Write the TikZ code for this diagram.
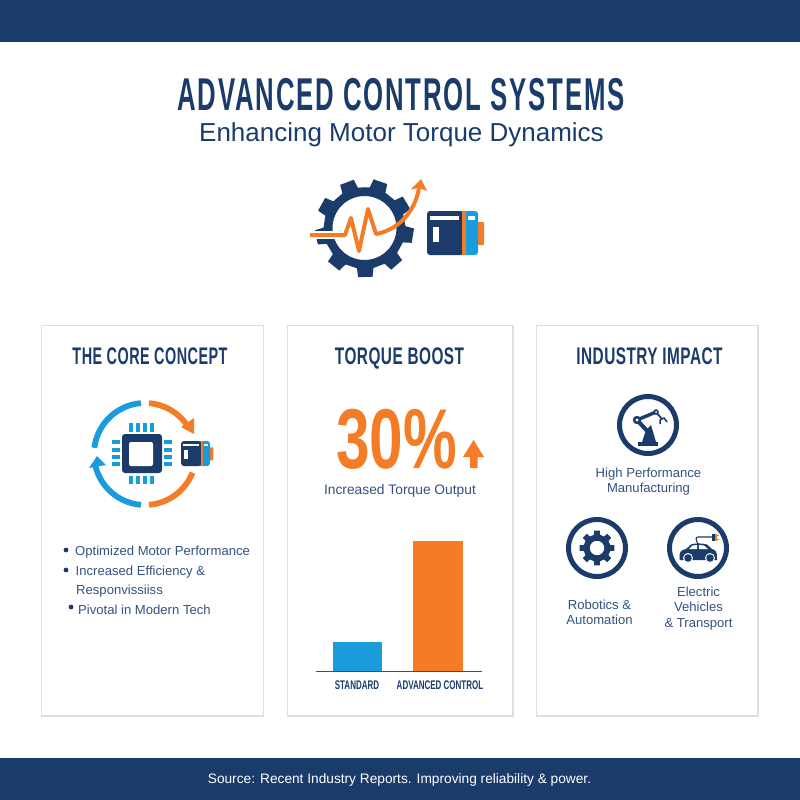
\documentclass[tikz,border=0pt]{standalone}
\usepackage{fontspec}
\setmainfont{Liberation Sans}
\newfontfamily\condT[FakeStretch=0.56,LetterSpace=4]{Liberation Sans}
\newfontfamily\condH[FakeStretch=0.60,LetterSpace=2]{Liberation Sans}
\newfontfamily\condI[FakeStretch=0.64,LetterSpace=2]{Liberation Sans}
\newfontfamily\condP[FakeStretch=0.71]{Liberation Sans}
\newfontfamily\condB[FakeStretch=0.64]{Liberation Sans}
\definecolor{navy}{HTML}{1B3C6B}
\definecolor{skyb}{HTML}{1A9BDC}
\definecolor{orng}{HTML}{F47C26}
\definecolor{txtc}{HTML}{34527F}
\definecolor{edge}{HTML}{DDDFE2}
\tikzset{
 band/.style={fill=navy,draw=none},
 panel/.style={fill=white,draw=edge,line width=1.2pt},
 maintitle/.style={text=navy,inner sep=0pt,anchor=base,font={\condT\bfseries\fontsize{46}{50}\selectfont}},
 subtitle/.style={text=navy,inner sep=0pt,anchor=base,font={\fontsize{26}{30}\selectfont}},
 head/.style={text=navy,inner sep=0pt,anchor=base,font={\condI\bfseries\fontsize{24}{28}\selectfont}},
 body/.style={text=txtc,inner sep=0pt,align=center,font={\fontsize{13.1}{15.5}\selectfont}},
 left text/.style={body,anchor=west,align=left},
 barlabel/.style={text=navy,inner sep=0pt,font={\condB\bfseries\fontsize{12.5}{14}\selectfont}},
 dotb/.style={fill=navy,draw=none},
 ring/.style={draw=navy,line width=5pt,fill=white},
 arcl/.style={line width=5.8pt,line cap=butt},
 pin/.style={fill=skyb,draw=none},
}
% gear: centre x,y; outer, root, hole radii; teeth; start angle
\newcommand\gearshape[7]{%
 \pgfmathsetmacro\gstep{360/#6}%
 \begin{scope}[shift={(#1,#2)}]
 \fill[navy,even odd rule]
  ({#7-0.21*\gstep}:#3)
  \foreach \k in {0,...,\numexpr#6-1\relax}{
    -- ({#7+\k*\gstep-0.21*\gstep}:#3)
    -- ({#7+\k*\gstep+0.21*\gstep}:#3)
    -- ({#7+\k*\gstep+0.29*\gstep}:#4)
    -- ({#7+\k*\gstep+0.71*\gstep}:#4)
  } -- cycle
  (0,0) circle[radius=#5];
 \end{scope}}
% motor icon: left x, top y, scale
\newcommand\motoricon[3]{%
 \begin{scope}[shift={(#1,#2)},scale=#3]
 \fill[orng,rounded corners=1pt] (48,11) rectangle (57,34);
 \fill[skyb,rounded corners=3pt] (30,0) rectangle (51,44);
 \fill[navy,rounded corners=3pt] (0,0) -- (36,0) -- (36,44) -- (0,44) -- cycle;
 \fill[orng] (35,0) rectangle (38.5,44);
 \fill[white] (3,5) rectangle (32,9);
 \fill[white] (6,16) rectangle (12,31);
 \fill[white] (41,5) rectangle (48,9);
 \end{scope}}
\begin{document}
\begin{tikzpicture}[x=1pt,y=-1pt]
\useasboundingbox (0,0) rectangle (800,800);
\fill[white] (0,0) rectangle (800,800);
\fill[band] (0,0) rectangle (800,42);
\fill[band] (0,758) rectangle (800,800);
\node[maintitle] (title) at (401,110) {ADVANCED CONTROL SYSTEMS};
\node[subtitle] (sub) at (401.5,141) {Enhancing Motor Torque Dynamics};
\node[text=white,inner sep=0pt,font={\fontsize{13.7}{16}\selectfont}] (src) at (399.5,779.5) {Source: Recent Industry Reports. Improving reliability \& power.};
% top icon
\gearshape{364.5}{228}{49.5}{41}{32}{9}{-71}
\draw[white,line width=8pt] (309,235) -- (345,235);
\draw[orng,line width=4pt,line join=round] (310,235) -- (345,235) -- (351,218) -- (359,251) -- (368,209) -- (376,234) .. controls (398,230) and (415,212) .. (419,188);
\fill[orng] (421,179) -- (427,191) -- (419,188) -- (410.5,189.5) -- cycle;
\motoricon{427}{211}{1}
% panels
\draw[panel] (41.5,325.5) rectangle (263.5,716);
\draw[panel] (287.5,325.5) rectangle (513,716);
\draw[panel] (536.5,325.5) rectangle (758,716);
\node[head,font={\condH\bfseries\fontsize{24}{28}\selectfont}] (h1) at (150,364) {THE CORE CONCEPT};
\node[head] (h2) at (399.5,364) {TORQUE BOOST};
\node[head] (h3) at (649.5,364) {INDUSTRY IMPACT};
% cycle icon
\coordinate (cy) at (145,454);
\draw[skyb,arcl] (cy) ++(-94.5:51) arc[start angle=-94.5,end angle=-173,radius=51];
\draw[orng,arcl] (cy) ++(-85.5:51) arc[start angle=-85.5,end angle=-32.6,radius=51];
\draw[skyb,arcl] (cy) ++(-265.5:51) arc[start angle=-265.5,end angle=-193,radius=51];
\draw[orng,arcl] (cy) ++(-274.5:51) arc[start angle=-274.5,end angle=-338.5,radius=51];
\fill[orng] (194,418) -- (194,434) -- (181,427) -- cycle;
\fill[skyb] (89,468) -- (97,456) -- (106,465) -- cycle;
\fill[navy,rounded corners=3pt] (122,434) rectangle (162,473);
\fill[white,rounded corners=2pt] (129,442) rectangle (153,466);
\foreach \px in {131,138,145,152}{
 \fill[pin] (\px-1.6,423) rectangle (\px+1.6,431.5);
 \fill[pin] (\px-1.6,476) rectangle (\px+1.6,484);
}
\foreach \py in {442,450,457,464}{
 \fill[pin] (112,\py-1.6) rectangle (120,\py+1.6);
 \fill[pin] (164,\py-1.6) rectangle (172,\py+1.6);
}
\motoricon{181}{441}{0.57}
% bullets
\fill[dotb] (66,550) circle[radius=2.4];
\fill[dotb] (66,570) circle[radius=2.4];
\fill[dotb] (71,607) circle[radius=2.4];
\node[left text] (b1) at (75,552) {Optimized Motor Performance};
\node[left text] (b2) at (75.5,572) {Increased Efficiency \&};
\node[left text] (b3) at (76,591) {Responvissiiss};
\node[left text] (b4) at (78,609.5) {Pivotal in Modern Tech};
% torque
\node[text=orng,inner sep=0pt,anchor=base west,font={\condP\bfseries\fontsize{85}{90}\selectfont}] (pct) at (336,468) {30\%};
\fill[orng] (473.5,440) -- (484,457) -- (477.5,457) -- (477.5,468) -- (470,468) -- (470,457) -- (463,457) -- cycle;
\node[body,font={\fontsize{13.8}{16}\selectfont}] (inc) at (400,491) {Increased Torque Output};
\fill[skyb] (333,642) rectangle (382,671);
\fill[orng] (413,541) rectangle (463,671);
\draw[draw=black!70,line width=0.8pt] (316,671.5) -- (482,671.5);
\node[barlabel] (l1) at (357,685) {STANDARD};
\node[barlabel] (l2) at (440,685) {ADVANCED CONTROL};
% industry
\draw[ring] (648,425) circle[radius=28.5];
\draw[ring] (597,548) circle[radius=28.5];
\draw[ring] (698,548) circle[radius=28.5];
\gearshape{597}{548}{17.5}{13.5}{7.3}{8}{-90}
% robot arm
\fill[navy] (638,442) rectangle (658,446);
\fill[navy] (642,442) -- (646,430) -- (651,425) -- (656,442) -- cycle;
\draw[navy,line width=4pt] (637,420) -- (649,433);
\draw[navy,line width=3.4pt] (637,420) -- (656,412);
\draw[navy,line width=1.8pt] (656,412) -- (662,419);
\fill[navy] (637,420) circle[radius=4.2];
\fill[white] (637,420) circle[radius=1.6];
\fill[navy] (656,412) circle[radius=2.8];
\fill[white] (656,412) circle[radius=1];
\draw[navy,line width=1.5pt] (660,424) -- (660,420) -- (664,418) -- (667,422);
% car
\fill[navy] (679.5,558) .. controls (679,552) and (681,550) .. (686,549) -- (691,544.5) .. controls (695,543) and (702,543) .. (707,544.5) -- (712,549) .. controls (716,550) and (717,552) .. (717,558) -- (717,560) -- (679.5,560) -- cycle;
\fill[white] (689,549) -- (692.5,545.5) -- (697,545) -- (697,549) -- cycle;
\fill[white] (699,545) -- (704,545.5) -- (708,549) -- (699,549) -- cycle;
\fill[white] (688,558) circle[radius=5];
\fill[white] (710,558) circle[radius=5];
\fill[navy] (688,558) circle[radius=3.8];
\fill[navy] (710,558) circle[radius=3.8];
\draw[navy,line width=1.1pt] (698,544) .. controls (696,540) and (695,537) .. (698,537) -- (712,537);
\fill[navy] (712,534) rectangle (715,541);
\fill[orng] (715,534) rectangle (717,541);
\draw[orng,line width=0.8pt] (717,535.5) -- (719,535.5) (717,539) -- (719,539);
\node[body] (t1) at (648.5,481.5) {High Performance\\Manufacturing};
\node[body] (t2) at (599.5,612.5) {Robotics \&\\Automation};
\node[body] (t3) at (698.5,608.5) {Electric\\Vehicles\\\& Transport};
\end{tikzpicture}
\end{document}
